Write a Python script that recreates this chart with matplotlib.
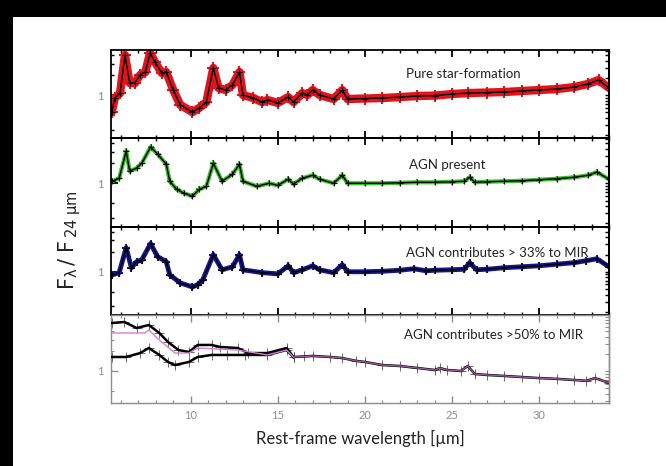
import numpy as np
import matplotlib
matplotlib.use("Agg")
import matplotlib.pyplot as plt
from matplotlib.patches import Rectangle
from matplotlib.ticker import FixedLocator, NullFormatter, MultipleLocator, LogLocator

plt.rcParams['font.family'] = ['Lato', 'DejaVu Sans']
plt.rcParams['mathtext.fontset'] = 'dejavusans'

# --- Pure star-formation (red)
lam_sf = [5.47, 5.65, 5.95, 6.23, 6.5, 6.8, 7.1, 7.4, 7.67, 7.95, 8.35, 8.6, 9.0, 9.4,
          10.1, 10.5, 10.9, 11.3, 11.6, 12.0, 12.4, 12.8, 13.0, 13.6, 14.1, 14.4, 15.0,
          15.6, 15.9, 16.4, 16.7, 17.0, 17.4, 18.2, 18.7, 19.0, 20.0, 21.0, 22.0, 23.0,
          24.0, 25.0, 25.9, 27.0, 28.0, 29.0, 30.0, 31.0, 32.0, 32.8, 33.4, 34.0]
flux_sf = [0.55, 0.90, 1.07, 4.04, 1.52, 1.52, 2.01, 2.23, 4.33, 3.16, 2.15, 2.23, 1.19, 0.71,
           0.55, 0.64, 0.78, 2.57, 1.28, 1.19, 1.42, 2.23, 1.00, 0.90, 0.78, 0.84, 0.76,
           0.93, 0.78, 1.07, 1.00, 1.19, 1.00, 0.87, 1.19, 0.87, 0.885, 0.90, 0.93, 0.966,
           0.98, 1.035, 1.07, 1.09, 1.11, 1.15, 1.19, 1.23, 1.32, 1.47, 1.69, 1.28]

# --- AGN present (green)
lam_agn = [5.5, 5.9, 6.3, 6.5, 6.9, 7.2, 7.7, 8.1, 8.6, 8.8, 9.2, 9.6, 10.1, 10.5, 10.9,
           11.3, 11.8, 12.4, 12.8, 13.0, 13.8, 14.5, 15.0, 15.6, 15.9, 16.4, 17.0, 17.4,
           18.2, 18.7, 19.0, 20.0, 21.0, 22.0, 23.0, 24.0, 25.0, 25.7, 26.0, 26.3, 27.0,
           28.0, 29.0, 30.0, 31.0, 32.0, 32.8, 33.3, 34.0]
flux_agn = [1.07, 1.19, 3.05, 1.52, 1.69, 2.01, 3.51, 2.75, 1.94, 1.07, 0.81, 0.71, 0.64, 0.81, 0.90,
            2.01, 1.07, 1.37, 1.94, 1.07, 0.90, 1.00, 0.93, 1.15, 0.97, 1.19, 1.32, 1.15,
            1.00, 1.32, 1.00, 1.00, 1.00, 1.017, 1.035, 1.035, 1.054, 1.072, 1.233, 1.035, 1.054,
            1.072, 1.091, 1.13, 1.17, 1.23, 1.32, 1.47, 1.15]

# --- AGN contributes > 33% (blue)
lam_33 = [5.5, 5.9, 6.3, 6.6, 6.9, 7.2, 7.7, 8.1, 8.6, 8.8, 9.4, 10.1, 10.4, 10.7, 11.3,
          11.8, 12.4, 12.8, 13.0, 14.1, 15.0, 15.6, 15.9, 16.4, 17.0, 17.4, 18.2, 18.7,
          19.0, 20.0, 21.0, 22.0, 22.8, 23.5, 24.0, 25.0, 25.7, 26.0, 26.4, 27.0, 28.0,
          29.0, 30.0, 31.0, 32.0, 32.7, 33.3, 34.0]
flux_33 = [0.90, 0.97, 2.31, 1.15, 1.42, 1.52, 2.66, 1.69, 1.42, 0.90, 0.68, 0.59, 0.64, 0.76, 1.81,
           1.07, 1.19, 1.81, 1.07, 0.97, 0.93, 1.23, 0.97, 1.07, 1.23, 1.07, 0.97, 1.28,
           1.00, 1.00, 1.017, 1.054, 1.11, 1.035, 1.054, 1.072, 1.091, 1.37, 1.072, 1.091, 1.15,
           1.19, 1.23, 1.30, 1.37, 1.47, 1.57, 1.19]

# --- AGN contributes > 50% (two spectra + mean)
lam_tail = [15.9, 16.5, 17.0, 18.0, 18.7, 19.5, 20.0, 21.0, 22.0, 23.0, 24.0, 24.3, 24.7,
            25.5, 25.9, 26.3, 27.0, 28.0, 29.0, 30.0, 31.0, 32.0, 32.7, 33.2, 34.0]
flux_tail = [1.63, 1.66, 1.69, 1.63, 1.57, 1.42, 1.37, 1.23, 1.19, 1.11, 1.035, 1.11, 1.035,
             1.0, 1.19, 0.90, 0.87, 0.84, 0.81, 0.78, 0.76, 0.73, 0.71, 0.78, 0.66]

lam_50a = [5.5, 6.2, 6.9, 7.6, 8.2, 8.7, 9.3, 9.9, 10.4, 11.2, 11.7, 12.7, 13.3, 14.4, 15.5, 15.9]
flux_50a = [5.34, 5.53, 4.48, 4.98, 3.77, 2.75, 2.08, 1.94, 2.48, 2.48, 2.31, 2.23, 1.87, 1.87, 2.23, 1.63]
lam_50b = [5.5, 6.3, 7.1, 7.6, 8.2, 8.7, 9.1, 9.9, 10.4, 11.2, 12.1, 13.1, 14.4, 15.5, 15.9]
flux_50b = [1.63, 1.63, 1.87, 2.23, 1.75, 1.37, 1.23, 1.37, 1.63, 1.75, 1.75, 1.75, 1.75, 2.08, 1.63]
lam_mean = [5.5, 7.4, 7.6, 8.2, 9.1, 9.9, 10.4, 11.5, 12.7, 14.4, 15.5, 15.9]
flux_mean = [3.77, 3.77, 4.18, 2.95, 1.87, 1.87, 2.23, 2.15, 2.08, 1.75, 2.08, 1.63]

labels = ["Pure star-formation", "AGN present", "AGN contributes > 33% to MIR",
          "AGN contributes >50% to MIR"]
xticks = [10, 15, 20, 25, 30]

W, H = 666, 466
fig = plt.figure(figsize=(W / 100, H / 100), dpi=100, facecolor='black')
fig.patches.append(Rectangle((13 / W, 0), 1, 1 - 17 / H, transform=fig.transFigure,
                             facecolor='white', edgecolor='none', zorder=-10))

left, right = 111, 609
edges = [50, 138, 226.5, 315, 403]
axes = []
for i in range(4):
    ax = fig.add_axes([left / W, 1 - edges[i + 1] / H, (right - left) / W,
                       (edges[i + 1] - edges[i]) / H])
    ax.set_facecolor('none')
    axes.append(ax)


def style(ax, ylim, frame_col, lw):
    ax.set_xlim(5.43, 34.0)
    ax.set_yscale('log')
    ax.set_ylim(*ylim)
    ax.xaxis.set_major_locator(FixedLocator(xticks))
    ax.xaxis.set_minor_locator(MultipleLocator(1))
    ax.yaxis.set_major_locator(FixedLocator([1]))
    ax.yaxis.set_major_formatter(plt.FuncFormatter(lambda v, p: "1"))
    ax.yaxis.set_minor_locator(FixedLocator([0.3, 0.5, 2, 3, 4]))
    ax.yaxis.set_minor_formatter(NullFormatter())
    ax.tick_params(which='both', direction='in', top=True, right=False,
                   color=frame_col, labelcolor='#8c8c8c', labelsize=8)
    ax.tick_params(which='major', length=5, width=lw)
    ax.tick_params(which='minor', length=2.5, width=lw * 0.8)
    ax.tick_params(axis='y', pad=5)
    for s in ax.spines.values():
        s.set_color(frame_col)
        s.set_linewidth(lw)
    # right axis has its own log ticks
    k = 66 / 57
    sec = ax.secondary_yaxis('right', functions=(lambda v: 10 ** (1 + np.log10(v) * k),
                                                  lambda r: 10 ** ((np.log10(r) - 1) / k)))
    sec.yaxis.set_major_locator(LogLocator(base=10, subs=(1,)))
    sec.yaxis.set_minor_locator(LogLocator(base=10, subs=np.arange(2, 10)))
    sec.yaxis.set_major_formatter(NullFormatter())
    sec.yaxis.set_minor_formatter(NullFormatter())
    sec.tick_params(which='both', direction='in', color=frame_col, length=3, width=lw * 0.8)
    sec.spines['right'].set_color(frame_col)
    sec.spines['right'].set_linewidth(lw)


ylim_top = (0.223, 4.81)
ylim_bot = (0.327, 7.06)

spectra = [(lam_sf, flux_sf, '#e3131b', 6.0),
           (lam_agn, flux_agn, '#3cbf2c', 3.0),
           (lam_33, flux_33, '#17168f', 3.5)]
for ax, (lam, flux, col, bw) in zip(axes[:3], spectra):
    style(ax, ylim_top, 'black', 1.3)
    ax.plot(lam, flux, color=col, lw=bw, solid_joinstyle='round', solid_capstyle='round', zorder=2)
    ax.plot(lam, flux, color=col, lw=0, marker='+', ms=bw + 2, mew=1.5, zorder=2)
    ax.plot(lam, flux, color='black', lw=1.0, marker='+', ms=4.5, mew=0.8, zorder=3)

ax = axes[3]
style(ax, ylim_bot, '#8c8c8c', 1.0)
for lam, flux in [(lam_50a, flux_50a), (lam_50b, flux_50b), (lam_tail, flux_tail)]:
    ax.plot(lam, flux, color='#555555', lw=0, marker='+', ms=7, mew=0.6, zorder=2)
    ax.plot(lam, flux, color='black', lw=1.8, zorder=3)
ax.plot(lam_mean, flux_mean, color='#d77fd7', lw=1.0, zorder=4)
ax.plot(lam_tail, flux_tail, color='#9a5a9a', lw=1.0, zorder=4)
axes[3].tick_params(axis='x', labelbottom=True, pad=5)
for a in axes[:3]:
    a.tick_params(axis='x', labelbottom=False)

text_pos = [(0.707, 0.727), (0.675, 0.70), (0.775, 0.70), (0.769, 0.77)]
for a, lab, (tx, ty) in zip(axes, labels, text_pos):
    a.text(tx, ty, lab, transform=a.transAxes, ha='center', va='center',
           fontsize=9.5, color='#222222', zorder=5)

fig.text(360 / W, 1 - 438 / H, "Rest-frame wavelength [\u00b5m]", ha='center', va='center',
         fontsize=12, color='#222222')
fig.text(70 / W, 1 - 240 / H, r"$\mathrm{F_{\lambda}\,/\;F_{\,24\ \mu m}}$", rotation=90,
         ha='center', va='center', fontsize=15, color='#222222')

fig.savefig('out.png', dpi=100, facecolor=fig.get_facecolor())
